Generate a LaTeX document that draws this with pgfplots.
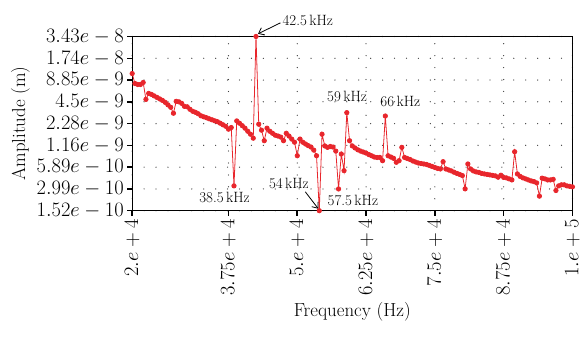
\documentclass[border=0pt]{standalone}
\usepackage{pgfplots}
\pgfplotsset{compat=1.18}
\usetikzlibrary{arrows.meta}
\definecolor{cred}{RGB}{232,38,44}
\begin{document}
\begin{tikzpicture}
\begin{axis}[
 scale only axis, width=443bp, height=175.3bp,
 xmin=20000, xmax=100000, ymode=log, ymin=1.52e-10, ymax=3.43e-8,
 xtick={20000,37500,50000,62500,75000,87500,100000},
 xticklabels={$2.e+4$,$3.75e+4$,$5.e+4$,$6.25e+4$,$7.5e+4$,$8.75e+4$,$1.e+5$},
 ytick={1.52e-10,2.99e-10,5.89e-10,1.16e-9,2.28e-9,4.5e-9,8.85e-9,1.74e-8,3.43e-8},
 yticklabels={$1.52e-10$,$2.99e-10$,$5.89e-10$,$1.16e-9$,$2.28e-9$,$4.5e-9$,$8.85e-9$,$1.74e-8$,$3.43e-8$},
 xtick pos=left, ytick pos=left,
 tick align=outside,
 major tick length=5bp,
 major tick style={black, line width=1.6bp},
 axis line style={line width=1.3bp},
 grid=major,
 major grid style={black!75, line width=1.3bp, dash pattern=on 0pt off 12bp, line cap=round},
 tick label style={font=\fontsize{19bp}{22bp}\selectfont, text=black},
 xticklabel style={rotate=90, anchor=east},
 label style={font=\fontsize{19bp}{22bp}\selectfont, text=black},
 xlabel={Frequency (Hz)}, ylabel={Amplitude (m)},
 clip=false, scaled x ticks=false,
]
\addplot[color=cred, line width=0.8bp, mark=*, mark size=2.2bp, mark options={solid, fill=cred, draw=cred}] coordinates {
(20000,1.083e-8) (20500,7.95e-9) (21000,7.71e-9) (21500,7.71e-9) (22000,8.20e-9)
(22500,4.85e-9) (23000,5.84e-9) (23500,5.66e-9) (24000,5.40e-9) (24500,5.16e-9)
(25000,4.92e-9) (25500,4.70e-9) (26000,4.42e-9) (26500,4.09e-9) (27000,3.79e-9)
(27500,3.15e-9) (28000,4.56e-9) (28500,4.49e-9) (29000,4.28e-9) (29500,3.90e-9)
(30000,3.85e-9) (30500,3.56e-9) (31000,3.35e-9) (31500,3.24e-9) (32000,3.10e-9)
(32500,2.91e-9) (33000,2.82e-9) (33500,2.74e-9) (34000,2.65e-9) (34500,2.57e-9)
(35000,2.49e-9) (35500,2.42e-9) (36000,2.31e-9) (36500,2.20e-9) (37000,2.10e-9)
(37500,1.92e-9) (38000,2.02e-9) (38500,3.29e-10) (39000,2.48e-9) (39500,2.31e-9)
(40000,2.14e-9) (40500,1.98e-9) (41000,1.80e-9) (41500,1.64e-9) (42000,1.45e-9)
(42500,3.43e-8) (43000,2.24e-9) (43500,1.86e-9) (44000,1.34e-9) (44500,1.98e-9)
(45000,1.80e-9) (45500,1.69e-9) (46000,1.59e-9) (46500,1.55e-9) (47000,1.50e-9)
(47500,1.34e-9) (48000,1.69e-9) (48500,1.55e-9) (49000,1.41e-9) (49500,1.28e-9)
(50000,8.40e-10) (50500,1.41e-9) (51000,1.28e-9) (51500,1.21e-9) (52000,1.15e-9)
(52500,1.10e-9) (53000,1.00e-9) (53500,8.40e-10) (54000,1.52e-10) (54500,1.64e-9)
(55000,1.14e-9) (55500,1.09e-9) (56000,1.12e-9) (56500,1.10e-9) (57000,9.71e-10)
(57500,2.99e-10) (58000,8.86e-10) (58500,5.28e-10) (59000,3.21e-9) (59500,1.34e-9)
(60000,1.14e-9) (60500,1.07e-9) (61000,1.01e-9) (61500,9.71e-10) (62000,9.42e-10)
(62500,9.13e-10) (63000,8.72e-10) (63500,8.40e-10) (64000,8.07e-10) (64500,7.95e-10)
(65000,7.97e-10) (65500,7.20e-10) (66000,2.89e-9) (66500,8.40e-10) (67000,8.07e-10)
(67500,7.75e-10) (68000,6.85e-10) (68500,7.20e-10) (69000,1.09e-9) (69500,7.97e-10)
(70000,7.70e-10) (70500,7.47e-10) (71000,7.13e-10) (71500,6.91e-10) (72000,6.70e-10)
(72500,6.60e-10) (73000,6.50e-10) (73500,6.40e-10) (74000,6.21e-10) (74500,6.02e-10)
(75000,5.83e-10) (75500,5.66e-10) (76000,5.57e-10) (76500,6.98e-10) (77000,5.57e-10)
(77500,5.40e-10) (78000,5.24e-10) (78500,5.03e-10) (79000,4.85e-10) (79500,4.70e-10)
(80000,4.53e-10) (80500,3.00e-10) (81000,6.50e-10) (81500,5.57e-10) (82000,5.24e-10)
(82500,5.08e-10) (83000,5.00e-10) (83500,4.85e-10) (84000,4.77e-10) (84500,4.70e-10)
(85000,4.63e-10) (85500,4.56e-10) (86000,4.49e-10) (86500,4.31e-10) (87000,4.58e-10)
(87500,4.28e-10) (88000,4.22e-10) (88500,4.09e-10) (89000,3.96e-10) (89500,9.51e-10)
(90000,4.77e-10) (90500,4.42e-10) (91000,4.22e-10) (91500,4.09e-10) (92000,3.96e-10)
(92500,3.84e-10) (93000,3.76e-10) (93500,3.61e-10) (94000,2.39e-10) (94500,4.18e-10)
(95000,4.09e-10) (95500,3.96e-10) (96000,3.96e-10) (96500,4.03e-10) (97000,2.85e-10)
(97500,3.29e-10) (98000,3.40e-10) (98500,3.40e-10) (99000,3.29e-10) (99500,3.24e-10)
(100000,3.19e-10)
};
\begin{scope}[every node/.style={font=\fontsize{15bp}{18bp}\selectfont, text=black, inner sep=0pt}]
\node[anchor=west] at (axis cs:47300,5.57e-8) {42.5\,kHz};
\draw[-{Straight Barb[length=5bp,width=8bp]}, line width=0.8bp] (axis cs:46940,5.24e-8) -- (axis cs:42875,3.73e-8);
\node at (axis cs:59060,5.32e-9) {59\,kHz};
\node at (axis cs:68730,4.49e-9) {66\,kHz};
\node at (axis cs:36780,2.273e-10) {38.5\,kHz};
\node at (axis cs:48480,3.50e-10) {54\,kHz};
\draw[-{Straight Barb[length=5bp,width=8bp]}, line width=0.8bp] (axis cs:51460,2.734e-10) -- (axis cs:53820,1.617e-10);
\node at (axis cs:60110,2.09e-10) {57.5\,kHz};
\end{scope}
\end{axis}
\path[use as bounding box] ([xshift=-133bp,yshift=-128bp]current axis.south west) rectangle ([xshift=450bp,yshift=212bp]current axis.south west);
\end{tikzpicture}
\end{document}
